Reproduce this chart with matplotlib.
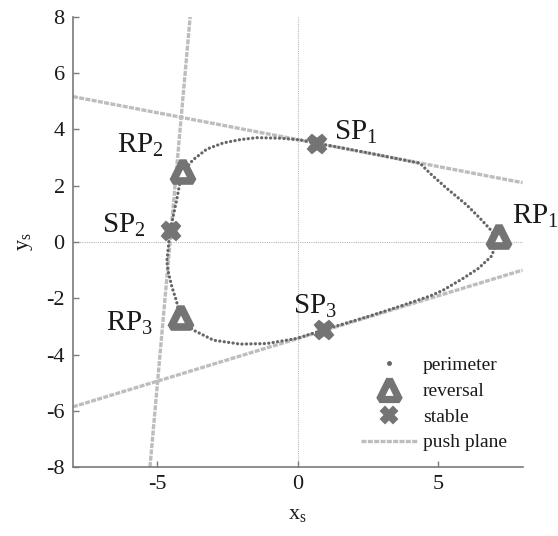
import matplotlib
matplotlib.use("Agg")
import matplotlib.pyplot as plt
from matplotlib.lines import Line2D
from matplotlib.markers import MarkerStyle

plt.rcParams['font.family'] = ['Liberation Serif', 'DejaVu Serif']
plt.rcParams['mathtext.fontset'] = 'custom'
plt.rcParams['mathtext.rm'] = 'Liberation Serif'
plt.rcParams['mathtext.it'] = 'Liberation Serif:italic'
plt.rcParams['axes.unicode_minus'] = False

# ---- data ----
perim_x = [0.68, 1.5, 2.5, 3.5, 4.35, 4.71, 5.30, 6.01, 6.49, 6.85, 7.12,
           6.90, 6.43, 5.89, 5.18, 4.71, 3.5, 2.5, 1.5, 0.90, -0.04, -1.10,
           -2.05, -3.0, -3.72, -4.19, -4.31, -4.48, -4.60, -4.66, -4.55,
           -4.31, -4.13, -3.73, -3.24, -2.66, -2.05, -1.46, -0.63, 0.08, 0.68]
perim_y = [3.51, 3.36, 3.17, 2.97, 2.80, 2.44, 1.91, 1.32, 0.84, 0.45, 0.10,
           -0.50, -0.94, -1.29, -1.71, -1.92, -2.33, -2.65, -2.95, -3.13, -3.43, -3.61,
           -3.63, -3.49, -3.13, -2.72, -2.12, -1.59, -1.10, -0.70, 0.37,
           1.49, 2.45, 2.92, 3.30, 3.52, 3.64, 3.71, 3.69, 3.63, 3.51]

rev_x = [7.18, -4.10, -4.16]
rev_y = [0.20, 2.54, -2.66]
rev_labels = ['RP$_\\mathrm{1}$', 'RP$_\\mathrm{2}$', 'RP$_\\mathrm{3}$']

stab_x = [0.68, -4.51, 0.94]
stab_y = [3.48, 0.40, -3.13]
stab_labels = ['SP$_\\mathrm{1}$', 'SP$_\\mathrm{2}$', 'SP$_\\mathrm{3}$']

# push plane lines (endpoints)
push_x0 = [-8.0, -8.0, -5.26]
push_y0 = [5.17, -5.86, -8.0]
push_x1 = [8.0, 8.0, -3.83]
push_y1 = [2.11, -1.00, 8.0]

xticks = [-5, 0, 5]
yticks = [-8, -6, -4, -2, 0, 2, 4, 6, 8]

# ---- style ----
gray_m = '#747474'
gray_p = '#666666'
gray_l = '#bdbdbd'
txt = '#1a1a1a'

fig = plt.figure(figsize=(5.58, 5.36), dpi=100)
ax = fig.add_axes([0.1308, 0.1287, 0.8056, 0.8396])
ax.set_xlim(-8, 8)
ax.set_ylim(-8, 8)

# zero lines
ax.axhline(0, color='#b8b8b8', lw=0.8, ls=(0, (1, 1)), zorder=1)
ax.axvline(0, color='#b8b8b8', lw=0.8, ls=(0, (1, 1)), zorder=1)

for x0, y0, x1, y1 in zip(push_x0, push_y0, push_x1, push_y1):
    ax.plot([x0, x1], [y0, y1], color=gray_l, lw=2.4, ls=(0, (1.5, 0.4)),
            zorder=2, clip_on=True)

ax.plot(perim_x, perim_y, color=gray_p, lw=2.3, ls=(0, (0.05, 1.35)),
        dash_capstyle='round', zorder=3)

tri = MarkerStyle('^', joinstyle='bevel')
ax.plot(rev_x, rev_y, ls='none', marker=tri, ms=15, mfc='white', mec=gray_m,
        mew=5.5, zorder=5)
ax.plot(stab_x, stab_y, ls='none', marker='X', ms=13, mfc=gray_m, mec=gray_m,
        mew=1.5, zorder=5)

# text labels
lab_fs = 21
ax.text(7.62, 0.9, rev_labels[0], fontsize=lab_fs, ha='left', va='center', color=txt)
ax.text(-5.6, 3.44, rev_labels[1], fontsize=lab_fs, ha='center', va='center', color=txt)
ax.text(-6.0, -2.88, rev_labels[2], fontsize=lab_fs, ha='center', va='center', color=txt)
ax.text(2.06, 3.88, stab_labels[0], fontsize=lab_fs, ha='center', va='center', color=txt)
ax.text(-6.2, 0.6, stab_labels[1], fontsize=lab_fs, ha='center', va='center', color=txt)
ax.text(0.62, -2.3, stab_labels[2], fontsize=lab_fs, ha='center', va='center', color=txt)

# axes styling
for s in ['top', 'right']:
    ax.spines[s].set_visible(False)
for s in ['left', 'bottom']:
    ax.spines[s].set_color('#7a7a7a')
    ax.spines[s].set_linewidth(1.2)
ax.set_xticks(xticks)
ax.set_yticks(yticks)
ax.tick_params(direction='in', length=4, width=1, color='#7a7a7a',
               labelsize=16, labelcolor=txt, pad=6)
ax.set_xlabel('x$_\\mathrm{s}$', fontsize=16, labelpad=8, color=txt)
ax.set_ylabel('y$_\\mathrm{s}$', fontsize=16, labelpad=8, color=txt)

handles = [
    Line2D([], [], ls='none', marker='o', ms=2.5, color=gray_p),
    Line2D([], [], ls='none', marker=tri, ms=14, mfc='white', mec=gray_m, mew=5.2),
    Line2D([], [], ls='none', marker='X', ms=12, mfc=gray_m, mec=gray_m, mew=1.5),
    Line2D([], [], color=gray_l, lw=2.4, ls=(0, (1.5, 0.4))),
]
labels = ['perimeter', 'reversal', 'stable', 'push plane']
leg = ax.legend(handles, labels, loc='lower right', bbox_to_anchor=(1.0, 0.0),
                frameon=False, fontsize=14, handlelength=2.9,
                handletextpad=0.3, labelspacing=0.42, borderpad=0.3)
for t in leg.get_texts():
    t.set_color(txt)

fig.savefig('out.png', dpi=100)
